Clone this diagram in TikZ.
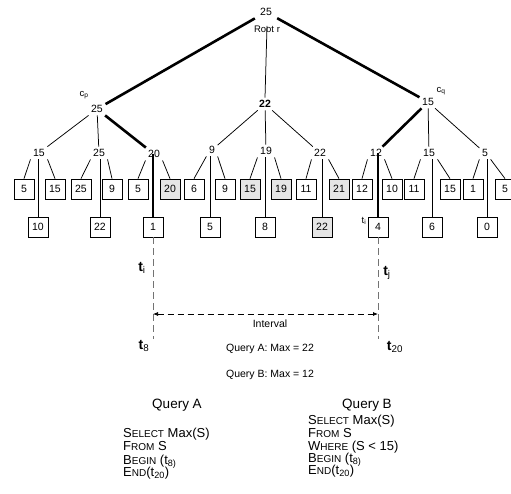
\documentclass[tikz,border=0pt]{standalone}
\usepackage{fontspec}
\setmainfont{Liberation Sans}
\usetikzlibrary{arrows.meta}
\newcommand{\fsc}[2]{#1{\fontsize{10}{12}\selectfont #2}}
\begin{document}
\begin{tikzpicture}[x=1pt,y=-1pt,
  num/.style={inner sep=2.5pt,font=\fontsize{10.5}{12}\selectfont},
  lbl/.style={inner sep=0pt,font=\fontsize{9.5}{11}\selectfont},
  leaf/.style={draw,line width=0.75pt,minimum width=20pt,minimum height=20pt,inner sep=0pt,font=\fontsize{10.5}{12}\selectfont},
  hit/.style={leaf,fill=black!10},
  edge/.style={line width=0.75pt},
  heavy/.style={line width=2.6pt},
  tline/.style={draw=black!55,line width=1pt,dash pattern=on 7pt off 4pt},
  ival/.style={line width=0.75pt,dash pattern=on 6pt off 4pt,{Latex[length=5pt,width=4pt]}-{Latex[length=5pt,width=4pt]}},
  tlab/.style={inner sep=0pt,font=\fontsize{14}{16}\selectfont},
  note/.style={inner sep=0pt,font=\fontsize{10.5}{12}\selectfont},
  qhead/.style={inner sep=0pt,anchor=base,font=\fontsize{13.5}{16}\selectfont},
  sql/.style={inner sep=0pt,anchor=base west,font=\fontsize{13}{15}\selectfont},
]
\useasboundingbox (0,0) rectangle (511,493);

% top levels
\node[num] (root) at (266,12) {25};
\node[lbl] (rootr) at (267,29.5) {Root r};
\node[num] (cp) at (97,109) {25};
\node[lbl] (cplab) at (84,95) {c\textsubscript{p}};
\node[num,font=\fontsize{10.5}{12}\selectfont\bfseries] (mid) at (265,104) {22};
\node[num] (cq) at (428,102) {15};
\node[lbl] (cqlab) at (441,91) {c\textsubscript{q}};

% level 2
\node[num] (n15a) at (39,153) {15};
\node[num] (n25) at (99,153) {25};
\node[num] (n20) at (154,154) {20};
\node[num] (n9) at (212,150) {9};
\node[num] (n19) at (266,151) {19};
\node[num] (n22) at (320,153) {22};
\node[num] (n12) at (376,153) {12};
\node[num] (n15b) at (429,153) {15};
\node[num] (n5) at (485,153) {5};

% leaves row 1
\node[leaf] (a1) at (24,189) {5};
\node[leaf] (a2) at (55,189) {15};
\node[leaf] (a3) at (81,189) {25};
\node[leaf] (a4) at (112,189) {9};
\node[leaf] (a5) at (138,189) {5};
\node[hit]  (a6) at (170,189) {20};
\node[leaf] (a7) at (194,189) {6};
\node[leaf] (a8) at (225,189) {9};
\node[hit]  (a9) at (250,189) {15};
\node[hit]  (a10) at (281,189) {19};
\node[leaf] (a11) at (306,189) {11};
\node[hit]  (a12) at (339,189) {21};
\node[leaf] (a13) at (362,189) {12};
\node[leaf] (a14) at (392,189) {10};
\node[leaf] (a15) at (414,189) {11};
\node[leaf] (a16) at (450,189) {15};
\node[leaf] (a17) at (473,189) {1};
\node[leaf] (a18) at (505,189) {5};

% leaves row 2
\node[leaf] (b1) at (38,227) {10};
\node[leaf] (b2) at (100,227) {22};
\node[leaf] (b3) at (153,227) {1};
\node[leaf] (b4) at (210,227) {5};
\node[leaf] (b5) at (265,227) {8};
\node[hit]  (b6) at (322,227) {22};
\node[leaf] (b7) at (378,227) {4};
\node[leaf] (b8) at (432,227) {6};
\node[leaf] (b9) at (487,227) {0};

% upper edges
\draw[heavy,shorten <=3pt] (root) -- (cp);
\draw[edge] (rootr.north) -- (mid.north);
\draw[heavy,shorten <=3pt] (root) -- (cq);
\draw[edge] (cp) -- (n15a);
\draw[edge] (cp) -- (n25);
\draw[heavy] (cp) -- (n20);
\draw[edge] (mid) -- (n9);
\draw[edge] (mid) -- (n19);
\draw[edge] (mid) -- (n22);
\draw[heavy] (cq) -- (n12);
\draw[edge] (cq) -- (n15b);
\draw[edge] (cq) -- (n5);

% edges to leaves
\draw[edge] (n15a.south west) -- (a1.north);
\draw[edge] (n15a.south east) -- (a2.north);
\draw[edge] (b1.north |- n15a.south) -- (b1.north);
\draw[edge] (n25.south west) -- (a3.north);
\draw[edge] (n25.south east) -- (a4.north);
\draw[edge] (b2.north |- n25.south) -- (b2.north);
\draw[edge] (n20.south west) -- (a5.north);
\draw[edge] (n20.south east) -- (a6.north);
\draw[heavy] (b3.north |- n20.center) -- (b3.north);
\draw[edge] (n9.south west) -- (a7.north);
\draw[edge] (n9.south east) -- (a8.north);
\draw[edge] (b4.north |- n9.south) -- (b4.north);
\draw[edge] (n19.south west) -- (a9.north);
\draw[edge] (n19.south east) -- (a10.north);
\draw[edge] (b5.north |- n19.south) -- (b5.north);
\draw[edge] (n22.south west) -- (a11.north);
\draw[edge] (n22.south east) -- (a12.north);
\draw[edge] (b6.north |- n22.south) -- (b6.north);
\draw[edge] (n12.south west) -- (a13.north);
\draw[edge] (n12.south east) -- (a14.north);
\draw[heavy] (b7.north |- n12.center) -- (b7.north);
\draw[edge] (n15b.south west) -- (a15.north);
\draw[edge] (n15b.south east) -- (a16.north);
\draw[edge] (b8.north |- n15b.south) -- (b8.north);
\draw[edge] (n5.south west) -- (a17.north);
\draw[edge] (n5.south east) -- (a18.north);
\draw[edge] (b9.north |- n5.south) -- (b9.north);

% time lines and interval
\coordinate (tl) at (153,339);
\coordinate (tr) at (378,339);
\draw[tline] (b3.south) -- (tl);
\draw[tline] (b7.south) -- (tr);
\coordinate (il) at (153,314);
\coordinate (ir) at (378,314);
\draw[ival] (il) -- (ir);

\node[lbl] (tis) at (364,221) {t\textsubscript{i}};
\node[tlab] (ti) at (142,268) {\textbf{t}\textsubscript{i}};
\node[tlab] (tj) at (387,273) {\textbf{t}\textsubscript{j}};
\node[tlab] (t8) at (144,346) {\textbf{t}\textsubscript{8}};
\node[tlab] (t20) at (395,347) {\textbf{t}\textsubscript{20}};

\node[note] (intv) at (270,324) {Interval};
\node[note] (resa) at (270,349) {Query A: Max = 22};
\node[note] (resb) at (270,375) {Query B: Max = 12};

% queries
\node[qhead] (qah) at (177,408) {Query A};
\node[qhead] (qbh) at (367,408) {Query B};

\node[sql] (qa1) at (123,437) {\fsc{S}{ELECT} Max(S)};
\node[sql] (qa2) at (123,450.5) {\fsc{F}{ROM} S};
\node[sql] (qa3) at (123,464) {\fsc{B}{EGIN} (t\textsubscript{8)}};
\node[sql] (qa4) at (123,476) {\fsc{E}{ND}(t\textsubscript{20})};

\node[sql] (qb1) at (308,424.5) {\fsc{S}{ELECT} Max(S)};
\node[sql] (qb2) at (308,437.5) {\fsc{F}{ROM} S};
\node[sql] (qb3) at (308,450) {\fsc{W}{HERE} (S < 15)};
\node[sql] (qb4) at (308,462) {\fsc{B}{EGIN} (t\textsubscript{8)}};
\node[sql] (qb5) at (308,474.5) {\fsc{E}{ND}(t\textsubscript{20})};
\end{tikzpicture}
\end{document}
